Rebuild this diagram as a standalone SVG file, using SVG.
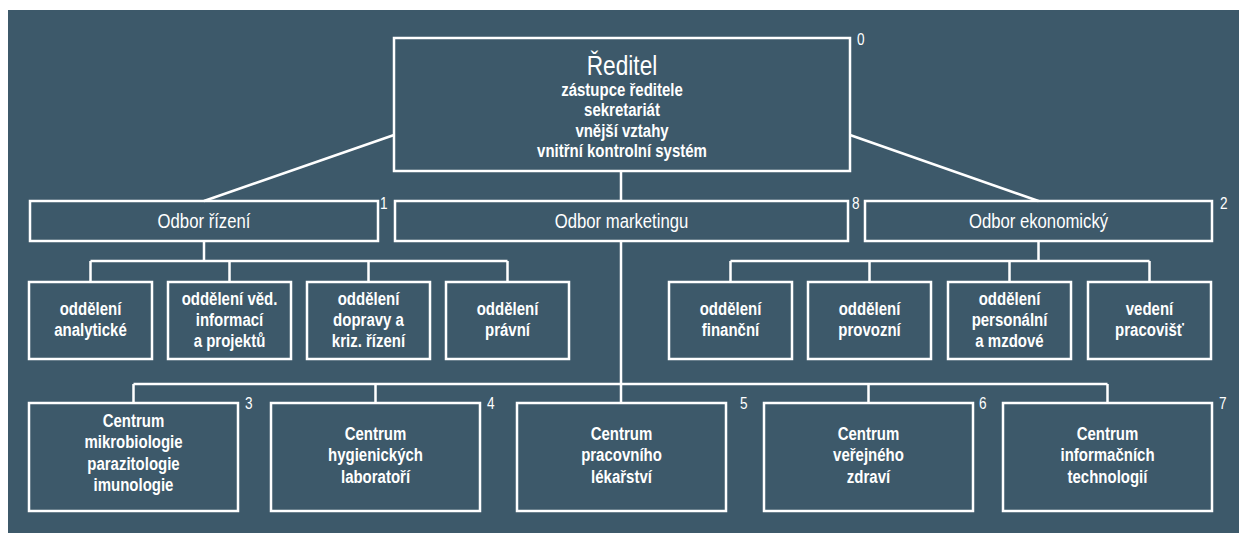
<svg xmlns="http://www.w3.org/2000/svg" width="1239" height="533" viewBox="0 0 1239 533">
<style>
.bg{fill:#3d596a}
.box{fill:none;stroke:#fff;stroke-width:2.5}
.ln{fill:none;stroke:#fff;stroke-width:2.5}
.t{font-family:"Liberation Sans",Arial,sans-serif;font-weight:bold;font-size:18.5px;fill:#fff;text-anchor:middle}
.o{font-weight:normal;font-size:20.5px}
.big{font-weight:normal;font-size:28px}
.lbl{font-family:"Liberation Sans",Arial,sans-serif;font-size:17px;fill:#fff}
</style>
<rect width="1239" height="533" fill="#fff"/>
<rect class="bg" x="8" y="10" width="1231" height="523"/>
<g id="connectors">
<path class="ln" d="M394,135 L204,201 M850,135 L1038.5,201 M621,171 V201 M621,241 V403"/>
<path class="ln" d="M204,241 V261 M90.5,261 H507.5 M90.5,261 V282 M229.5,261 V282 M368.5,261 V282 M507.5,261 V282"/>
<path class="ln" d="M1038.5,241 V261 M730.5,261 H1149.5 M730.5,261 V282 M869.5,261 V282 M1009.5,261 V282 M1149.5,261 V282"/>
<path class="ln" d="M133.5,384 H1107.5 M133.5,384 V403 M375.5,384 V403 M868.5,384 V403 M1107.5,384 V403"/>
</g>
<g id="n0">
<rect class="box" x="394" y="38" width="456" height="133"/>
<text class="t" transform="translate(622 0) scale(0.81 1)"><tspan class="big" x="0" y="75" transform="scale(1.03 1)">Ředitel</tspan><tspan x="0" y="96">zástupce ředitele</tspan><tspan x="0" y="116.5">sekretariát</tspan><tspan x="0" y="137">vnější vztahy</tspan><tspan x="0" y="157.5">vnitřní kontrolní systém</tspan></text>
<text class="lbl" transform="translate(857 45) scale(0.8 1)">0</text>
</g>
<g id="n1">
<rect class="box" x="30" y="201" width="348" height="40"/>
<text class="t o" transform="translate(204 228) scale(0.815 1)">Odbor řízení</text>
<text class="lbl" transform="translate(380 209) scale(0.8 1)">1</text>
</g>
<g id="n8">
<rect class="box" x="395" y="201" width="453" height="40"/>
<text class="t o" transform="translate(621.5 228) scale(0.815 1)">Odbor marketingu</text>
<text class="lbl" transform="translate(852 209) scale(0.8 1)">8</text>
</g>
<g id="n2">
<rect class="box" x="865" y="201" width="347" height="40"/>
<text class="t o" transform="translate(1038.5 228) scale(0.815 1)">Odbor ekonomický</text>
<text class="lbl" transform="translate(1220 209) scale(0.8 1)">2</text>
</g>
<g id="n1a">
<rect class="box" x="29" y="282" width="123" height="77"/>
<text class="t" transform="translate(90.5 0) scale(0.81 1)"><tspan x="0" y="315">oddělení</tspan><tspan x="0" y="336">analytické</tspan></text>
</g>
<g id="n1b">
<rect class="box" x="168" y="282" width="123" height="77"/>
<text class="t" transform="translate(229.5 0) scale(0.81 1)"><tspan x="0" y="305">oddělení věd.</tspan><tspan x="0" y="326">informací</tspan><tspan x="0" y="347">a projektů</tspan></text>
</g>
<g id="n1c">
<rect class="box" x="307" y="282" width="123" height="77"/>
<text class="t" transform="translate(368.5 0) scale(0.81 1)"><tspan x="0" y="305">oddělení</tspan><tspan x="0" y="326">dopravy a</tspan><tspan x="0" y="347">kriz. řízení</tspan></text>
</g>
<g id="n1d">
<rect class="box" x="446" y="282" width="123" height="77"/>
<text class="t" transform="translate(507.5 0) scale(0.81 1)"><tspan x="0" y="315">oddělení</tspan><tspan x="0" y="336">právní</tspan></text>
</g>
<g id="n2a">
<rect class="box" x="669" y="282" width="123" height="77"/>
<text class="t" transform="translate(730.5 0) scale(0.81 1)"><tspan x="0" y="315">oddělení</tspan><tspan x="0" y="336">finanční</tspan></text>
</g>
<g id="n2b">
<rect class="box" x="808" y="282" width="123" height="77"/>
<text class="t" transform="translate(869.5 0) scale(0.81 1)"><tspan x="0" y="315">oddělení</tspan><tspan x="0" y="336">provozní</tspan></text>
</g>
<g id="n2c">
<rect class="box" x="948" y="282" width="123" height="77"/>
<text class="t" transform="translate(1009.5 0) scale(0.81 1)"><tspan x="0" y="305">oddělení</tspan><tspan x="0" y="326">personální</tspan><tspan x="0" y="347">a mzdové</tspan></text>
</g>
<g id="n2d">
<rect class="box" x="1088" y="282" width="123" height="77"/>
<text class="t" transform="translate(1149.5 0) scale(0.81 1)"><tspan x="0" y="315">vedení</tspan><tspan x="0" y="336">pracovišť</tspan></text>
</g>
<g id="n3">
<rect class="box" x="29" y="403" width="209" height="108"/>
<text class="t" transform="translate(133.5 0) scale(0.81 1)"><tspan x="0" y="427">Centrum</tspan><tspan x="0" y="448.5">mikrobiologie</tspan><tspan x="0" y="470">parazitologie</tspan><tspan x="0" y="491.5">imunologie</tspan></text>
<text class="lbl" transform="translate(245 409) scale(0.8 1)">3</text>
</g>
<g id="n4">
<rect class="box" x="271" y="403" width="209" height="108"/>
<text class="t" transform="translate(375.5 0) scale(0.81 1)"><tspan x="0" y="440">Centrum</tspan><tspan x="0" y="461.5">hygienických</tspan><tspan x="0" y="483">laboratoří</tspan></text>
<text class="lbl" transform="translate(487 409) scale(0.8 1)">4</text>
</g>
<g id="n5">
<rect class="box" x="517" y="403" width="209" height="108"/>
<text class="t" transform="translate(621.5 0) scale(0.81 1)"><tspan x="0" y="440">Centrum</tspan><tspan x="0" y="461.5">pracovního</tspan><tspan x="0" y="483">lékařství</tspan></text>
<text class="lbl" transform="translate(740 409) scale(0.8 1)">5</text>
</g>
<g id="n6">
<rect class="box" x="764" y="403" width="209" height="108"/>
<text class="t" transform="translate(868.5 0) scale(0.81 1)"><tspan x="0" y="440">Centrum</tspan><tspan x="0" y="461.5">veřejného</tspan><tspan x="0" y="483">zdraví</tspan></text>
<text class="lbl" transform="translate(979 409) scale(0.8 1)">6</text>
</g>
<g id="n7">
<rect class="box" x="1003" y="403" width="209" height="108"/>
<text class="t" transform="translate(1107.5 0) scale(0.81 1)"><tspan x="0" y="440">Centrum</tspan><tspan x="0" y="461.5">informačních</tspan><tspan x="0" y="483">technologií</tspan></text>
<text class="lbl" transform="translate(1219 409) scale(0.8 1)">7</text>
</g>
</svg>
